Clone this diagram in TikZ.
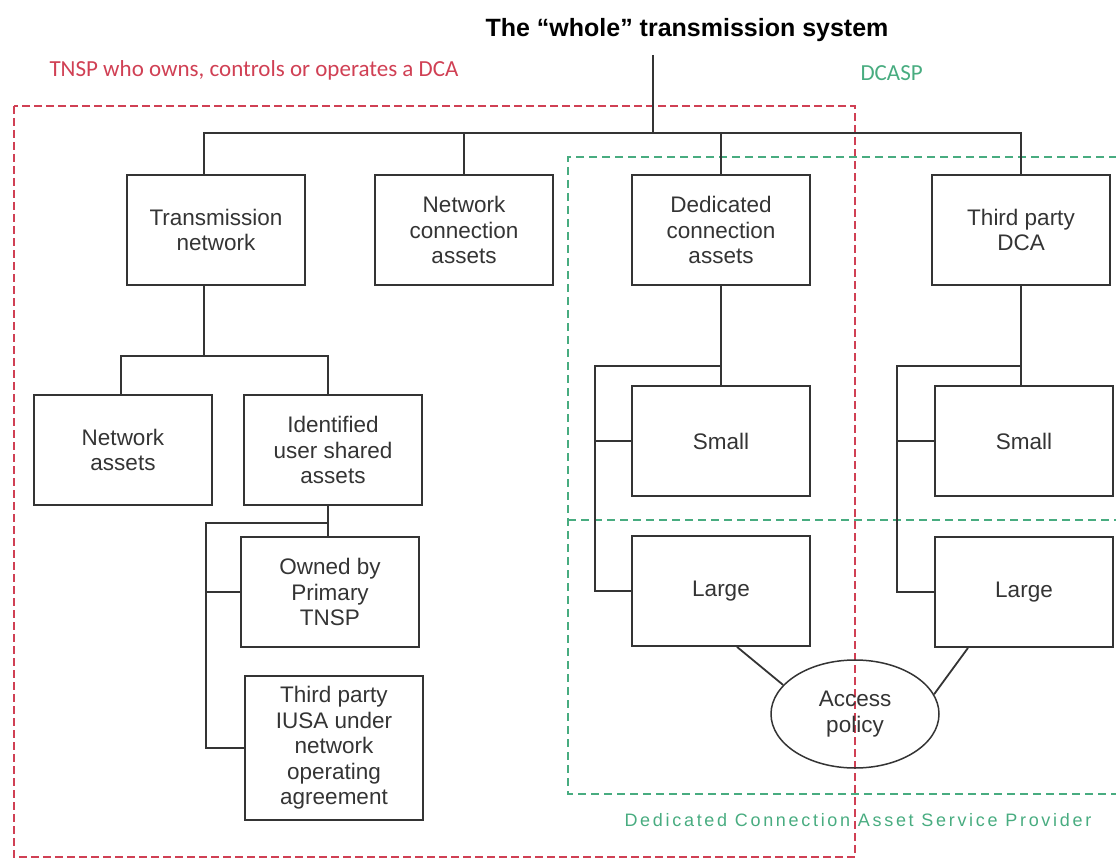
\documentclass[tikz,border=0pt]{standalone}
\usepackage{fontspec}
\setmainfont{Liberation Sans}
\newfontfamily\notefont{Carlito}
\usepackage{tikz}
\usetikzlibrary{shapes.geometric,positioning,calc}
\definecolor{tnspred}{RGB}{208,64,84}
\definecolor{dcaspgreen}{RGB}{72,172,128}
\definecolor{linegray}{RGB}{52,52,52}

\begin{document}
\begin{tikzpicture}[x=1pt,y=-1pt,node distance=220pt,on grid,
    box/.style={draw=linegray,line width=1.8pt,minimum width=178pt,minimum height=110pt,
        inner sep=0pt,align=center,text=linegray,font=\fontsize{22.5}{25.5}\selectfont},
    policy/.style={ellipse,draw=linegray,line width=1.5pt,minimum width=168pt,minimum height=108pt,
        inner sep=0pt,align=center,text=linegray,font=\fontsize{22.5}{26}\selectfont},
    link/.style={draw=linegray,line width=1.8pt},
    reddash/.style={draw=tnspred,line width=1.5pt,dash pattern=on 8pt off 4pt},
    greendash/.style={draw=dcaspgreen,line width=1.5pt,dash pattern=on 8pt off 5pt}]

    \useasboundingbox (0,0) rectangle (1116,861);
    \clip (0,0) rectangle (1116,861);

    % owner areas
    \draw[reddash] (14,106) rectangle (855,857);
    \draw[greendash] (1130,157) -| (568,794) -- (1130,794);
    \draw[greendash] (568,520) -- (1130,520);

    \node (0) at (687,30) {\fontsize{25}{28}\selectfont\bfseries The “whole” transmission system};
    \node (14) [anchor=west,text=tnspred,font=\notefont\fontsize{23}{27}\selectfont] at (46,70)
        {TNSP who owns, controls or operates a DCA};
    \node (15) [anchor=west,text=dcaspgreen,font=\notefont\fontsize{23}{27}\selectfont] at (857,73) {DCASP};
    \node (16) [anchor=west,text=dcaspgreen,font=\fontsize{18}{22}\selectfont\addfontfeature{LetterSpace=15}] at (621,820)
        {Dedicated Connection Asset Service Provider};

    \node (1) [box] at (216,230) {Transmission\\network};
    \node (2) [box,right of=1,node distance=248pt] {Network\\connection\\assets};
    \node (3) [box,right of=2,node distance=257pt] {Dedicated\\connection\\assets};
    \node (4) [box,right of=3,node distance=300pt] {Third party\\DCA};

    \node (5) [box,below of=1,xshift=-93pt] {Network\\assets};
    \node (6) [box,below of=1,xshift=117pt] {Identified\\user shared\\assets};
    \node (7) [box,below of=6,node distance=142pt,xshift=-3pt] {Owned by\\Primary\\TNSP};
    \node (8) [box,below of=7,node distance=156pt,xshift=4pt,minimum height=144pt]
        {Third party\\IUSA under\\network\\operating\\agreement};

    \node (9) [box,below of=3,node distance=211pt] {Small};
    \node (10) [box,below of=9,node distance=150pt] {Large};
    \node (11) [box,below of=4,node distance=211pt,xshift=3pt] {Small};
    \node (12) [box,below of=11,node distance=151pt] {Large};
    \node (13) [policy,below of=10,node distance=123pt,xshift=134pt] {Access\\policy};

    % top level bus
    \coordinate (top) at (653,55);
    \coordinate (bus) at (653,133);
    \draw[link] (top) -- (bus);
    \draw[link] ($(1.north)+(-12,0)$) |- (bus) -| (4.north);
    \draw[link] (2.north) -- (2.north |- bus);
    \draw[link] (3.north) -- (3.north |- bus);

    % transmission network branch
    \draw[link] ($(1.south)+(-12,0)$) -- ++(0,70) coordinate (tnb);
    \draw[link] ($(5.north)+(-2,0)$) |- (tnb) -| ($(6.north)+(-5,0)$);
    \coordinate (iub) at (206,523);
    \draw[link] ($(6.south)+(-5,0)$) coordinate (ius) -- (ius |- 7.north);
    \draw[link] (ius |- iub) -- (iub) |- (8.west);
    \draw[link] (iub |- 7.west) -- (7.west);

    % dedicated connection branches
    \coordinate (dcb) at (595,366);
    \draw[link] (3.south) -- (3.south |- 9.north);
    \draw[link] (3.south |- dcb) -- (dcb) |- (10.west);
    \draw[link] (dcb |- 9.west) -- (9.west);
    \coordinate (tpb) at (897,366);
    \draw[link] (4.south) -- (4.south |- 11.north);
    \draw[link] (4.south |- tpb) -- (tpb) |- (12.west);
    \draw[link] (tpb |- 11.west) -- (11.west);

    \draw[link] ($(10.south)+(16,0)$) -- (13.158);
    \draw[link] ($(12.south)+(-56,0)$) -- (13.14);
\end{tikzpicture}
\end{document}
